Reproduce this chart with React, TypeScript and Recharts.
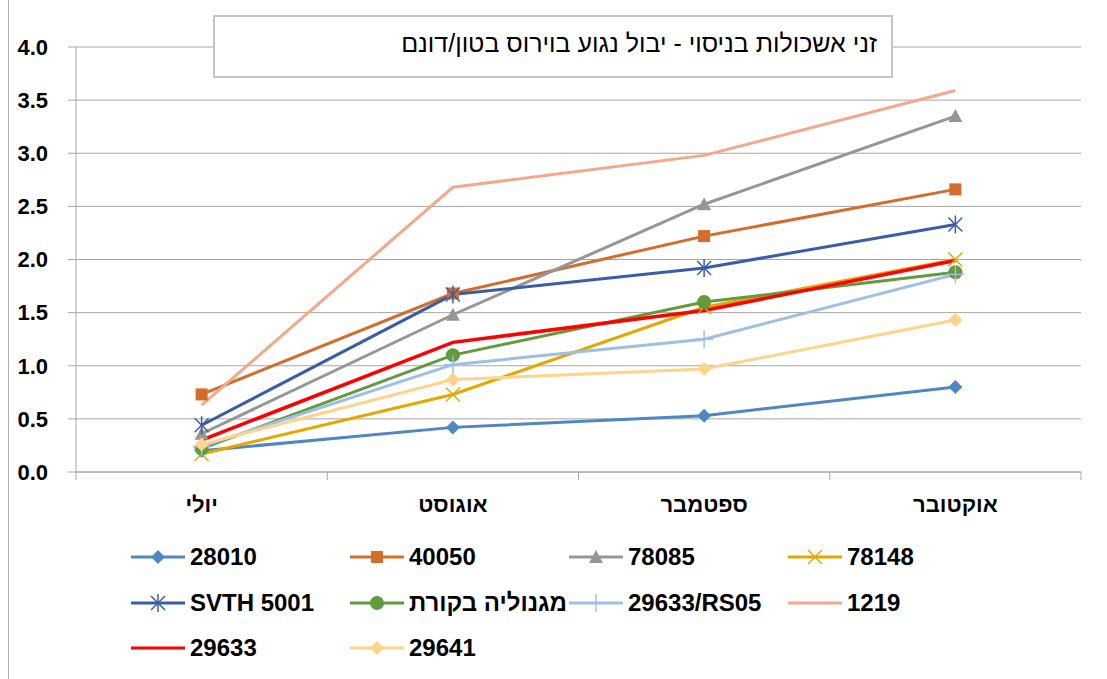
import { CartesianGrid, Line, LineChart, XAxis, YAxis } from "recharts";

const months = ["יולי", "אוגוסט", "ספטמבר", "אוקטובר"];
const yTicks = [0, 0.5, 1, 1.5, 2, 2.5, 3, 3.5, 4];

const s28010 = [0.2, 0.42, 0.53, 0.8];
const s40050 = [0.73, 1.68, 2.22, 2.66];
const s78085 = [0.36, 1.48, 2.52, 3.35];
const s78148 = [0.17, 0.73, 1.55, 2.0];
const sSvth = [0.44, 1.67, 1.92, 2.33];
const sMagnolia = [0.22, 1.1, 1.6, 1.88];
const sRs05 = [0.24, 1.01, 1.25, 1.86];
const s1219 = [0.63, 2.68, 2.98, 3.59];
const s29633 = [0.3, 1.22, 1.52, 1.99];
const s29641 = [0.26, 0.87, 0.97, 1.43];

type Shape = "diamond" | "square" | "triangle" | "x" | "star" | "circle" | "plus" | "none";

const series: { name: string; values: number[]; color: string; shape: Shape; width: number }[] = [
  { name: "28010", values: s28010, color: "#4e87c1", shape: "diamond", width: 3 },
  { name: "40050", values: s40050, color: "#d46c2b", shape: "square", width: 3 },
  { name: "78085", values: s78085, color: "#969696", shape: "triangle", width: 3 },
  { name: "78148", values: s78148, color: "#e2a800", shape: "x", width: 3 },
  { name: "SVTH 5001", values: sSvth, color: "#3a5da8", shape: "star", width: 3 },
  { name: "מגנוליה בקורת", values: sMagnolia, color: "#629b3c", shape: "circle", width: 3 },
  { name: "29633/RS05", values: sRs05, color: "#9dbfe6", shape: "plus", width: 3 },
  { name: "1219", values: s1219, color: "#f4a78a", shape: "none", width: 3 },
  { name: "29633", values: s29633, color: "#ff0000", shape: "none", width: 3.5 },
  { name: "29641", values: s29641, color: "#ffd38a", shape: "diamond", width: 3 },
];

const data = months.map((m, i) => {
  const row: Record<string, string | number> = { month: m };
  series.forEach((s) => (row[s.name] = s.values[i]));
  return row;
});

const FONT = "'Liberation Sans', Arial, sans-serif";
const GRID = "#a6a6a6";

function Marker({ cx, cy, shape, color }: { cx: number; cy: number; shape: Shape; color: string }) {
  if (shape === "diamond")
    return <polygon points={`${cx},${cy - 7} ${cx + 7},${cy} ${cx},${cy + 7} ${cx - 7},${cy}`} fill={color} />;
  if (shape === "square") return <rect x={cx - 6} y={cy - 6} width={12} height={12} fill={color} />;
  if (shape === "triangle")
    return <polygon points={`${cx},${cy - 7} ${cx + 7},${cy + 6} ${cx - 7},${cy + 6}`} fill={color} />;
  if (shape === "circle") return <circle cx={cx} cy={cy} r={7} fill={color} />;
  if (shape === "x")
    return (
      <g stroke={color} strokeWidth={1.5}>
        <line x1={cx - 7} y1={cy - 7} x2={cx + 7} y2={cy + 7} />
        <line x1={cx - 7} y1={cy + 7} x2={cx + 7} y2={cy - 7} />
      </g>
    );
  if (shape === "star")
    return (
      <g stroke={color} strokeWidth={1.5}>
        <line x1={cx - 7} y1={cy - 7} x2={cx + 7} y2={cy + 7} />
        <line x1={cx - 7} y1={cy + 7} x2={cx + 7} y2={cy - 7} />
        <line x1={cx} y1={cy - 9} x2={cx} y2={cy + 9} />
      </g>
    );
  if (shape === "plus")
    return (
      <g stroke={color} strokeWidth={1.5}>
        <line x1={cx} y1={cy - 9} x2={cx} y2={cy + 9} />
        <line x1={cx - 9} y1={cy} x2={cx + 9} y2={cy} />
      </g>
    );
  return <g />;
}

function MonthTick(props: any) {
  const { x, y, payload, index, visibleTicksCount } = props;
  const off = payload.offset ?? 125.6;
  return (
    <g>
      <line x1={x - off} y1={y} x2={x - off} y2={y + 8} stroke={GRID} />
      {index === visibleTicksCount - 1 && <line x1={x + off} y1={y} x2={x + off} y2={y + 8} stroke={GRID} />}
      <text x={x} y={y + 40} textAnchor="middle" fontFamily={FONT} fontWeight="bold" fontSize={22} fill="#000">
        {payload.value}
      </text>
    </g>
  );
}

export default function App() {
  return (
    <div style={{ position: "absolute", left: 0, top: 0, width: 1107, height: 679, background: "#fff" }}>
      <div style={{ position: "absolute", left: 8, top: 0, width: 1, height: 679, background: "#b0b0b0" }} />
      <LineChart width={1107} height={679} data={data} margin={{ top: 47, right: 26, bottom: 157, left: 16 }}>
        <CartesianGrid vertical={false} stroke={GRID} />
        <XAxis
          dataKey="month"
          scale="band"
          height={50}
          tickLine={false}
          tickSize={0}
          tickMargin={0}
          axisLine={{ stroke: GRID }}
          tick={<MonthTick />}
          interval={0}
        />
        <YAxis
          width={60}
          domain={[0, 4]}
          ticks={yTicks}
          interval={0}
          tickFormatter={(v: number) => v.toFixed(1)}
          tickSize={8}
          tickMargin={20}
          axisLine={{ stroke: GRID }}
          tickLine={{ stroke: GRID }}
          tick={{ fill: "#000", fontFamily: FONT, fontWeight: "bold", fontSize: 22 }}
        />
        {series.map((s) => (
          <Line
            key={s.name}
            dataKey={s.name}
            stroke={s.color}
            strokeWidth={s.width}
            isAnimationActive={false}
            activeDot={false}
            dot={(p: any) => (
              <Marker key={`${s.name}-${p.index}`} cx={p.cx} cy={p.cy} shape={s.shape} color={s.color} />
            )}
          />
        ))}
      </LineChart>

      <div
        style={{
          position: "absolute",
          left: 213,
          top: 15,
          width: 680,
          height: 63,
          border: "2px solid #c4c4c4",
          background: "#fff",
          display: "flex",
          alignItems: "center",
          justifyContent: "flex-start",
          paddingRight: 14,
          paddingBottom: 6,
          boxSizing: "border-box",
          fontFamily: FONT,
          fontSize: 25,
          direction: "rtl",
        }}
      >
        זני אשכולות בניסוי - יבול נגוע בוירוס בטון/דונם
      </div>

      {series.map((s, i) => {
        const col = i % 4;
        const row = Math.floor(i / 4);
        return (
          <div
            key={s.name}
            style={{
              position: "absolute",
              left: 130 + col * 219,
              top: 557 + row * 45.5 - 15,
              height: 30,
              display: "flex",
              alignItems: "center",
              fontFamily: FONT,
              fontWeight: "bold",
              fontSize: 24,
              whiteSpace: "nowrap",
            }}
          >
            <svg width={56} height={30}>
              <line x1={1} y1={15} x2={55} y2={15} stroke={s.color} strokeWidth={3} />
              <Marker cx={28} cy={15} shape={s.shape} color={s.color} />
            </svg>
            <span style={{ marginLeft: 4 }}>{s.name}</span>
          </div>
        );
      })}
    </div>
  );
}
